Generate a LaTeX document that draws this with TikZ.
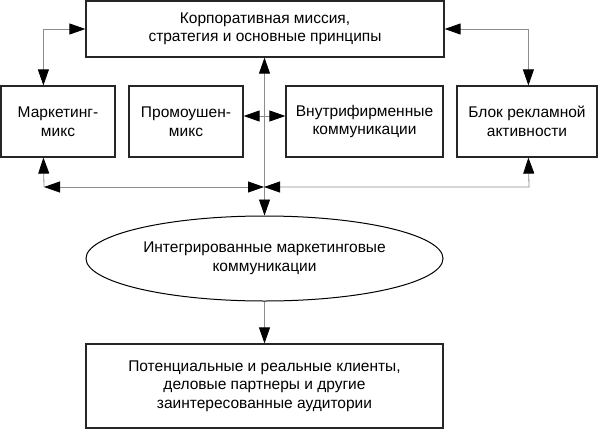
\documentclass[tikz,border=0pt]{standalone}
\usepackage{fontspec}
\setmainfont{Liberation Sans}
\usetikzlibrary{arrows.meta,shapes.geometric}
\begin{document}
\begin{tikzpicture}[x=1pt,y=-1pt,
  txt/.style={align=center, inner sep=0pt, font=\fontsize{15.5}{18.5}\selectfont},
  box/.style={txt, draw=black!85, line width=1.2pt},
  conn/.style={draw=black!45, line width=0.8pt,
    >={Triangle[length=16pt,width=11pt,color=black]}}
]
\useasboundingbox (0,0) rectangle (601,431);
\node[box, minimum width=358pt, minimum height=56pt] (top) at (265,29)
  {Корпоративная миссия,\\стратегия и основные принципы};
\node[box, minimum width=114pt, minimum height=71pt] (mk) at (58,121.5)
  {Маркетинг-\\микс};
\node[box, minimum width=114pt, minimum height=71pt] (pr) at (186,121.5)
  {Промоушен-\\микс};
\node[box, minimum width=157pt, minimum height=71pt] (vn) at (364.5,121.5)
  {Внутрифирменные\\коммуникации};
\node[box, minimum width=140pt, minimum height=71pt] (bl) at (527,121.5)
  {Блок рекламной\\активности};
\node[txt, draw=black, line width=1pt, ellipse, minimum width=357pt, minimum height=85pt] (ell) at (264.5,258.5)
  {Интегрированные маркетинговые\\коммуникации};
\node[box, minimum width=357pt, minimum height=84pt] (bot) at (264.5,386)
  {Потенциальные и реальные клиенты,\\деловые партнеры и другие\\заинтересованные аудитории};
\coordinate (j) at (264,187);
\coordinate (lc) at (44,187);
\coordinate (rc) at (529,187);
\draw[conn,<->] (top.west) -| ([xshift=43pt]mk.north west);
\draw[conn,<->] (top.east) -| ([xshift=72pt]bl.north west);
\draw[conn,<->] (ell.north |- top.south) -- (ell.north);
\draw[conn,<->] ([yshift=5.5pt]pr.east) -- ([yshift=5.5pt]vn.west);
\draw[conn,->] (lc) -- ([xshift=43pt]mk.south west);
\draw[conn,<->] (lc) -- (j);
\draw[conn,<->] (j) -- (rc) -- ([xshift=72pt]bl.south west);
\draw[conn,->] (ell.south) -- (bot.north);
\end{tikzpicture}
\end{document}
